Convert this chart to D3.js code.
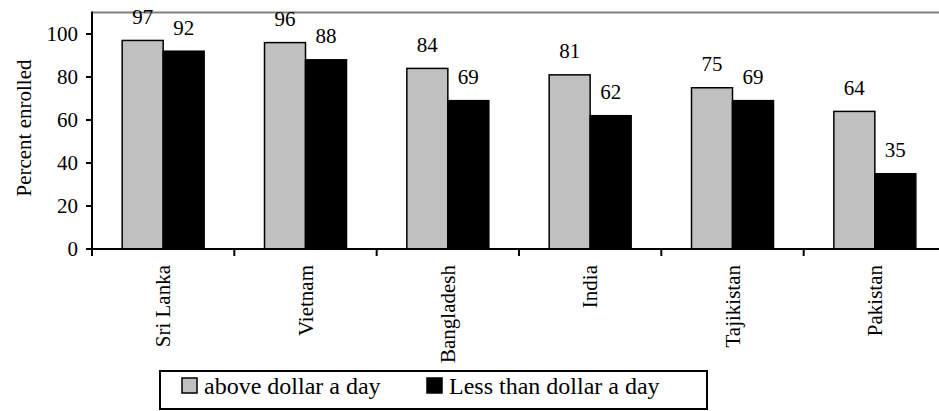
<!DOCTYPE html>
<html><head><meta charset="utf-8">
<script src="https://cdn.jsdelivr.net/npm/d3@7"></script>
</head><body style="margin:0;background:#fff">
<svg id="c" width="939" height="411" font-family="Liberation Serif" style="display:block;font-family:'Liberation Serif'"></svg>
<script>
const categories = ["Sri Lanka","Vietnam","Bangladesh","India","Tajikistan","Pakistan"];
const seriesNames = ["above dollar a day","Less than dollar a day"];
const above = [97,96,84,81,75,64];
const below = [92,88,69,62,69,35];
const yTicks = [0,20,40,60,80,100];
const colors = ["#c0c0c0","#000000"];
const FONT = "Liberation Serif";

const svg = d3.select("#c");
const x0 = d3.scaleBand().domain(categories).range([92,946]).paddingInner(0.424).paddingOuter(0.212);
const x1 = d3.scaleBand().domain(seriesNames).range([0,x0.bandwidth()]);
const y = d3.scaleLinear().domain([0,110]).range([249,12.5]);
const step = x0.step();

// top gray line
svg.append("line").attr("x1",92).attr("x2",939).attr("y1",y(110)).attr("y2",y(110))
  .attr("stroke","#808080").attr("stroke-width",2);

const data = categories.map((c,i)=>({c, vals:[above[i],below[i]]}));
const g = svg.selectAll("g.cat").data(data).join("g").attr("class","cat").attr("transform",d=>`translate(${x0(d.c)},0)`);
g.selectAll("rect").data(d=>d.vals.map((v,j)=>({v,s:seriesNames[j],j}))).join("rect")
  .attr("x",d=>x1(d.s)).attr("width",x1.bandwidth())
  .attr("y",d=>y(d.v)).attr("height",d=>y(0)-y(d.v))
  .attr("fill",d=>colors[d.j]).attr("stroke","#000").attr("stroke-width",1.5);
g.selectAll("text").data(d=>d.vals.map((v,j)=>({v,s:seriesNames[j]}))).join("text")
  .attr("x",d=>x1(d.s)+x1.bandwidth()/2).attr("y",d=>y(d.v)-16.5)
  .attr("text-anchor","middle").attr("font-family",FONT).attr("font-size",21).text(d=>d.v);

// y axis (built from scale ticks)
const ya = svg.append("g").attr("transform","translate(92,0)");
const yt = ya.selectAll("g").data(yTicks).join("g").attr("transform",d=>`translate(0,${y(d)})`);
yt.append("line").attr("x1",-6).attr("x2",0).attr("stroke","#000").attr("stroke-width",2);
yt.append("text").attr("x",-14).attr("dy","0.32em").attr("text-anchor","end")
  .attr("font-family",FONT).attr("font-size",21).text(d=>y.tickFormat()(d));
svg.append("line").attr("x1",92).attr("x2",92).attr("y1",y(110)-1).attr("y2",y(0)+1).attr("stroke","#000").attr("stroke-width",2);

// x axis
svg.append("line").attr("x1",91).attr("x2",939).attr("y1",y(0)).attr("y2",y(0)).attr("stroke","#000").attr("stroke-width",2);
const bounds = d3.range(categories.length+1).map(i=>92+i*step);
svg.selectAll("line.xt").data(bounds).join("line").attr("class","xt")
  .attr("x1",d=>d).attr("x2",d=>d).attr("y1",y(0)).attr("y2",y(0)+7).attr("stroke","#000").attr("stroke-width",2);
svg.selectAll("text.catl").data(categories).join("text").attr("class","catl")
  .attr("transform",d=>`translate(${x0(d)+x0.bandwidth()/2+7},265) rotate(-90)`)
  .attr("text-anchor","end").attr("font-family",FONT).attr("font-size",21).text(d=>d);

// y label
svg.append("text").attr("transform","translate(31,128) rotate(-90)").attr("text-anchor","middle")
  .attr("font-family",FONT).attr("font-size",21).text("Percent enrolled");

// legend
svg.append("rect").attr("x",160).attr("y",371).attr("width",547).attr("height",38)
  .attr("fill","#fff").attr("stroke","#000").attr("stroke-width",2);
const lx = [182,427];
const lg = svg.selectAll("g.leg").data(seriesNames).join("g").attr("class","leg")
  .attr("transform",(d,i)=>`translate(${lx[i]},378)`);
lg.append("rect").attr("width",15).attr("height",15).attr("fill",(d,i)=>colors[i]).attr("stroke","#000").attr("stroke-width",1.5);
lg.append("text").attr("x",22).attr("y",15.5).attr("font-family",FONT).attr("font-size",24).text(d=>d);
</script>
</body></html>
